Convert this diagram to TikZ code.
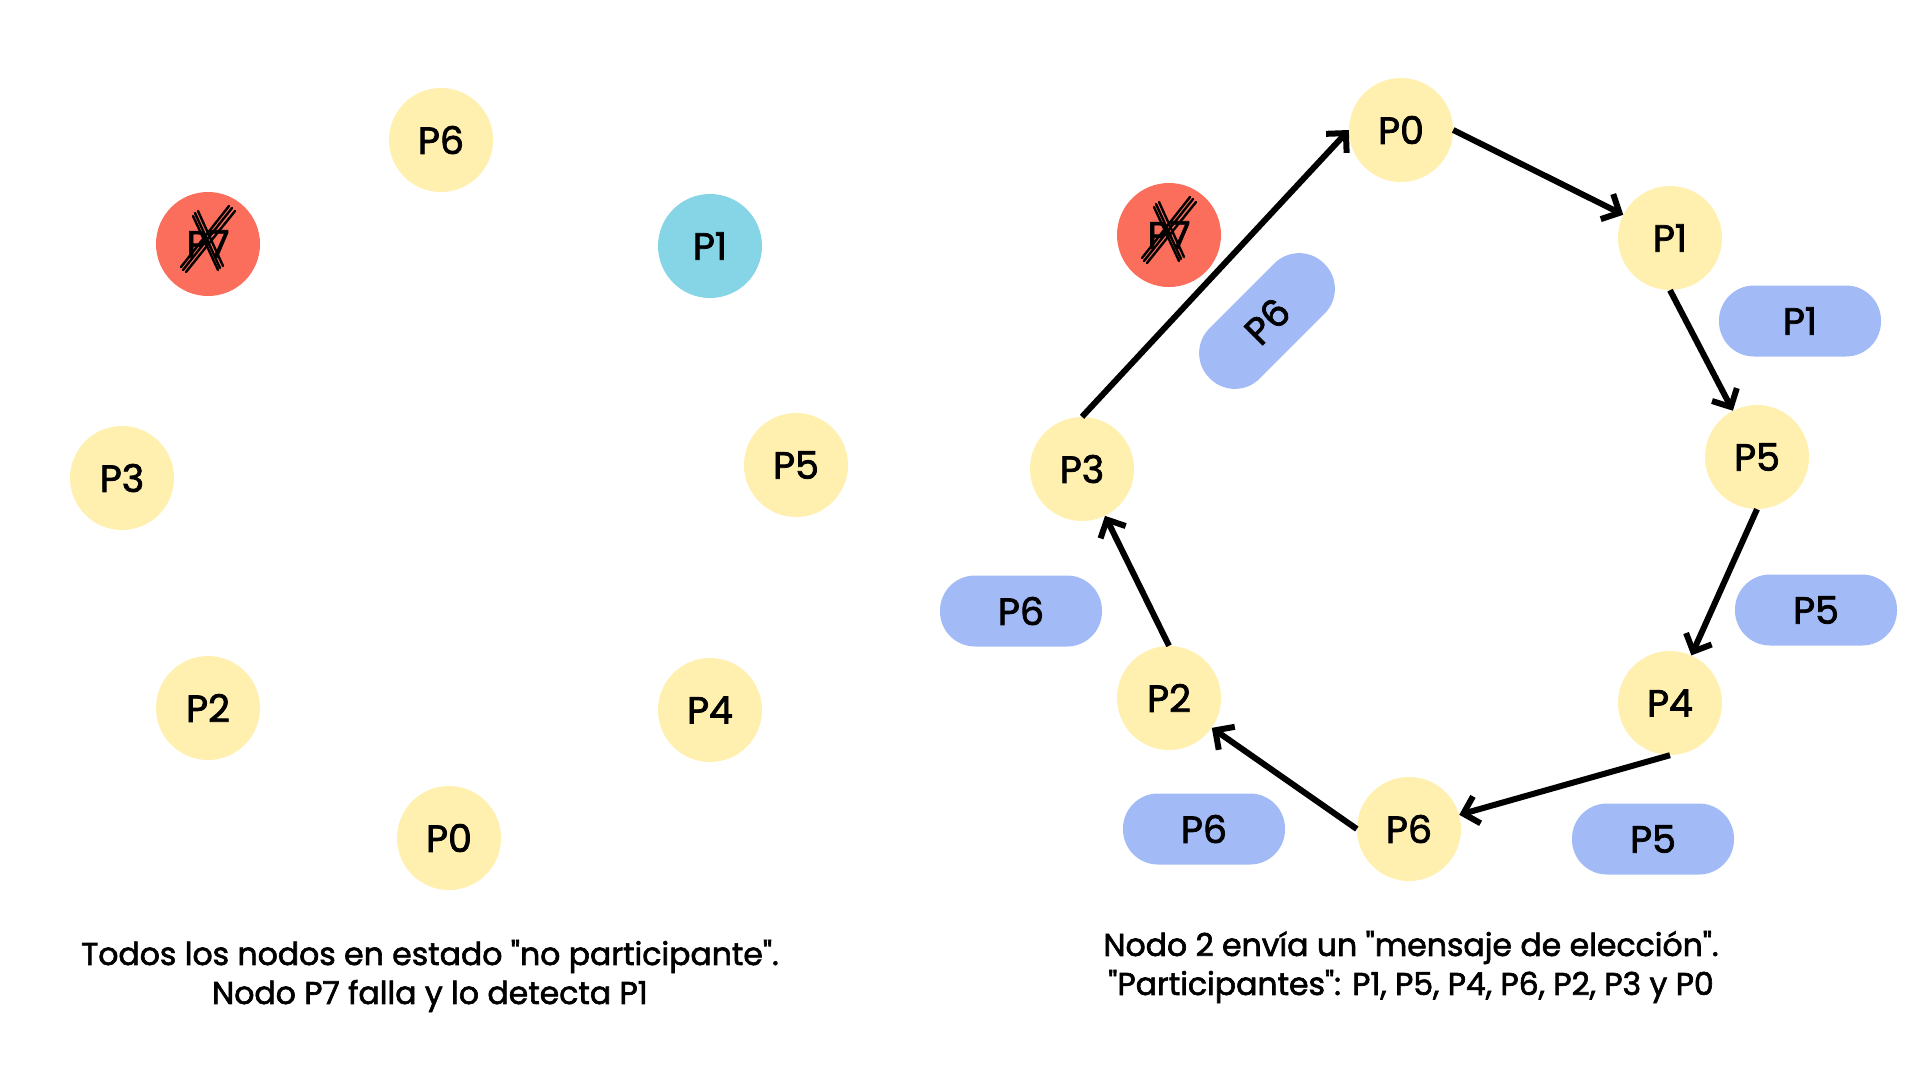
\documentclass[tikz,border=0pt]{standalone}
\usepackage{fontspec}
\setmainfont{Poppins}[Ligatures=TeXOff, FakeBold=2]
\usetikzlibrary{arrows.meta}
\definecolor{nodeyel}{HTML}{FFF0B0}
\definecolor{nodered}{HTML}{FC6E5C}
\definecolor{nodecyan}{HTML}{86D5E7}
\definecolor{pillblue}{HTML}{A2BBF7}
\tikzset{
  proc/.style={circle, minimum size=104pt, inner sep=0pt, fill=nodeyel, font=\fontsize{38}{40}\selectfont, text=black},
  dead/.style={proc, fill=nodered},
  detector/.style={proc, fill=nodecyan},
  pill/.style={rectangle, rounded corners=35pt, minimum width=162pt, minimum height=71pt, inner sep=0pt, fill=pillblue, font=\fontsize{38}{40}\selectfont, text=black},
  msg/.style={line width=6pt, -{Straight Barb[length=14pt,width=28pt,line width=6pt]}},
  caption/.style={font=\fontsize{31.5}{39}\selectfont, align=center, text=black},
  scrib/.style={line width=2.4pt, black, line cap=round}
}
\begin{document}
\begin{tikzpicture}[x=1pt,y=-1pt]
\useasboundingbox (0,0) rectangle (1920,1080);
\fill[white] (0,0) rectangle (1920,1080);

% ---------- left ring ----------
\node[proc] (L6) at (441,140) {P6};
\node[dead] (L7) at (208,244) {P7};
\node[detector] (L1) at (710,246) {P1};
\node[proc] (L3) at (122,478) {P3};
\node[proc] (L5) at (796,465) {P5};
\node[proc] (L2) at (208,708) {P2};
\node[proc] (L4) at (710,710) {P4};
\node[proc] (L0) at (449,838) {P0};

\begin{scope}[shift={(L7.center)}]
  \draw[scrib] (-25,26) -- (24,-36);
  \draw[scrib] (-22,28) -- (27,-33);
  \draw[scrib] (-27,23) -- (21,-38);
  \draw[scrib] (-13,-31) -- (12,24);
  \draw[scrib] (-10,-33) -- (15,22);
  \draw[scrib] (-15,-28) -- (10,26);
\end{scope}

\node[caption] (capL) at (430,976) {Todos los nodos en estado "no participante".\\Nodo P7 falla y lo detecta P1};

% ---------- right ring ----------
\node[proc] (R0) at (1401,130) {P0};
\node[dead] (R7) at (1169,235) {P7};
\node[proc] (R1) at (1670,238) {P1};
\node[proc] (R3) at (1082,469) {P3};
\node[proc] (R5) at (1757,457) {P5};
\node[proc] (R2) at (1169,698) {P2};
\node[proc] (R4) at (1670,703) {P4};
\node[proc] (R6) at (1409,829) {P6};

\begin{scope}[shift={(R7.center)}]
  \draw[scrib] (-25,26) -- (24,-36);
  \draw[scrib] (-22,28) -- (27,-33);
  \draw[scrib] (-27,23) -- (21,-38);
  \draw[scrib] (-13,-31) -- (12,24);
  \draw[scrib] (-10,-33) -- (15,22);
  \draw[scrib] (-15,-28) -- (10,26);
\end{scope}

% messages
\node[pill] (m1) at (1800,321) {P1};
\node[pill] (m5a) at (1816,610) {P5};
\node[pill] (m5b) at (1653,839) {P5};
\node[pill] (m6a) at (1204,829) {P6};
\node[pill] (m6b) at (1021,611) {P6};
\node[pill, rotate=45] (m6c) at (1267,321) {P6};

% arrows
\draw[msg] (R3.north) -- (R0.west);
\draw[msg] (R0.east) -- (R1);
\draw[msg] (R1.south) -- (R5);
\draw[msg] (R5.south) -- (R4);
\draw[msg] (R4.south) -- (R6);
\draw[msg] (R6.west) -- (R2);
\draw[msg] (R2.north) -- (R3);

\node[caption] (capR) at (1411,967) {Nodo 2 envía un "mensaje de elección".\\"Participantes": P1, P5, P4, P6, P2, P3 y P0};
\end{tikzpicture}
\end{document}
